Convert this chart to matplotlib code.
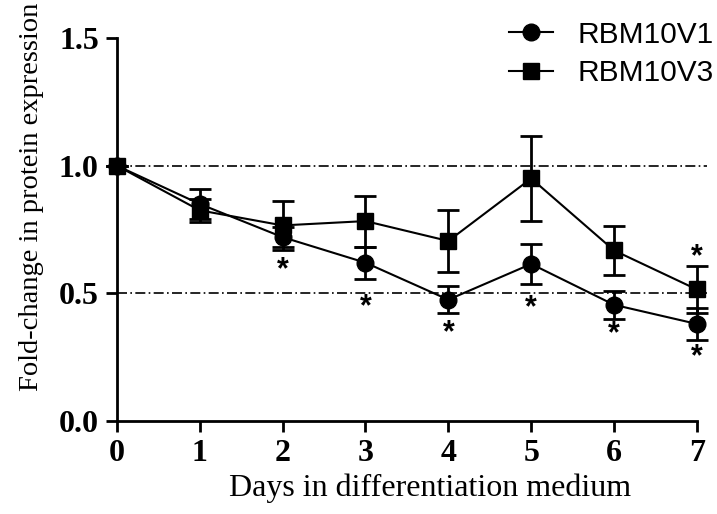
import matplotlib.pyplot as plt
from matplotlib.lines import Line2D

# Data
days = [0, 1, 2, 3, 4, 5, 6, 7]
v1_mean = [1.0, 0.85, 0.72, 0.62, 0.475, 0.615, 0.455, 0.38]
v1_sem = [0.0, 0.057, 0.04, 0.063, 0.053, 0.077, 0.056, 0.062]
v3_mean = [1.0, 0.825, 0.766, 0.783, 0.705, 0.95, 0.668, 0.515]
v3_sem = [0.0, 0.045, 0.095, 0.1, 0.12, 0.165, 0.095, 0.093]

# significance stars: (day, y position)
star_days = [2, 3, 4, 5, 6, 7, 7]
star_y = [0.59, 0.445, 0.345, 0.44, 0.34, 0.25, 0.64]

fig = plt.figure(figsize=(7.17, 5.14), dpi=100)
ax = fig.add_axes([0.163, 0.181, 0.809, 0.745])

# reference lines, running a little past the last day
for ref in [1.0, 0.5]:
    ax.plot([0, 7.12], [ref, ref], color='black', lw=1.2,
            ls=(0, (6, 2, 1, 2)), zorder=1, clip_on=False)

ax.errorbar(days, v1_mean, yerr=v1_sem, color='black', marker='o', ms=12,
            lw=1.5, elinewidth=2, capsize=8, capthick=2,
            clip_on=False, zorder=3)
ax.errorbar(days, v3_mean, yerr=v3_sem, color='black', marker='s', ms=12,
            lw=1.5, elinewidth=2, capsize=8, capthick=2,
            clip_on=False, zorder=3)

for d, y in zip(star_days, star_y):
    ax.text(d, y, '*', ha='center', va='center', fontsize=22,
            family='Liberation Sans', fontweight='bold')

ax.set_xlim(0, 7)
ax.set_ylim(0, 1.5)
ax.set_xticks(days)
ax.set_yticks([0.0, 0.5, 1.0, 1.5])
ax.set_yticklabels(['0.0', '0.5', '1.0', '1.5'])

for s in ['top', 'right']:
    ax.spines[s].set_visible(False)
for s in ['left', 'bottom']:
    ax.spines[s].set_linewidth(2)

ax.tick_params(width=2, length=8, direction='out', pad=5)
for lab in ax.get_xticklabels() + ax.get_yticklabels():
    lab.set_fontfamily('Liberation Serif')
    lab.set_fontweight('bold')
    lab.set_fontsize(23)

ax.set_xlabel('Days in differentiation medium', family='Liberation Serif',
              fontsize=23)
ax.xaxis.set_label_coords(0.54, -0.137)
ax.set_ylabel('Fold-change in protein expression', family='Liberation Serif',
              fontsize=20.5)
ax.yaxis.set_label_coords(-0.125, 0.585)

handles = [Line2D([], [], color='black', marker='o', ms=12, lw=1.5),
           Line2D([], [], color='black', marker='s', ms=12, lw=1.5)]
ax.legend(handles, ['RBM10V1', 'RBM10V3'], loc='upper right',
          bbox_to_anchor=(1.075, 1.115), frameon=False,
          prop={'family': 'Liberation Sans', 'size': 21.5},
          handlelength=1.5, handletextpad=0.8, labelspacing=0.35)

fig.savefig('out.png', dpi=100)
